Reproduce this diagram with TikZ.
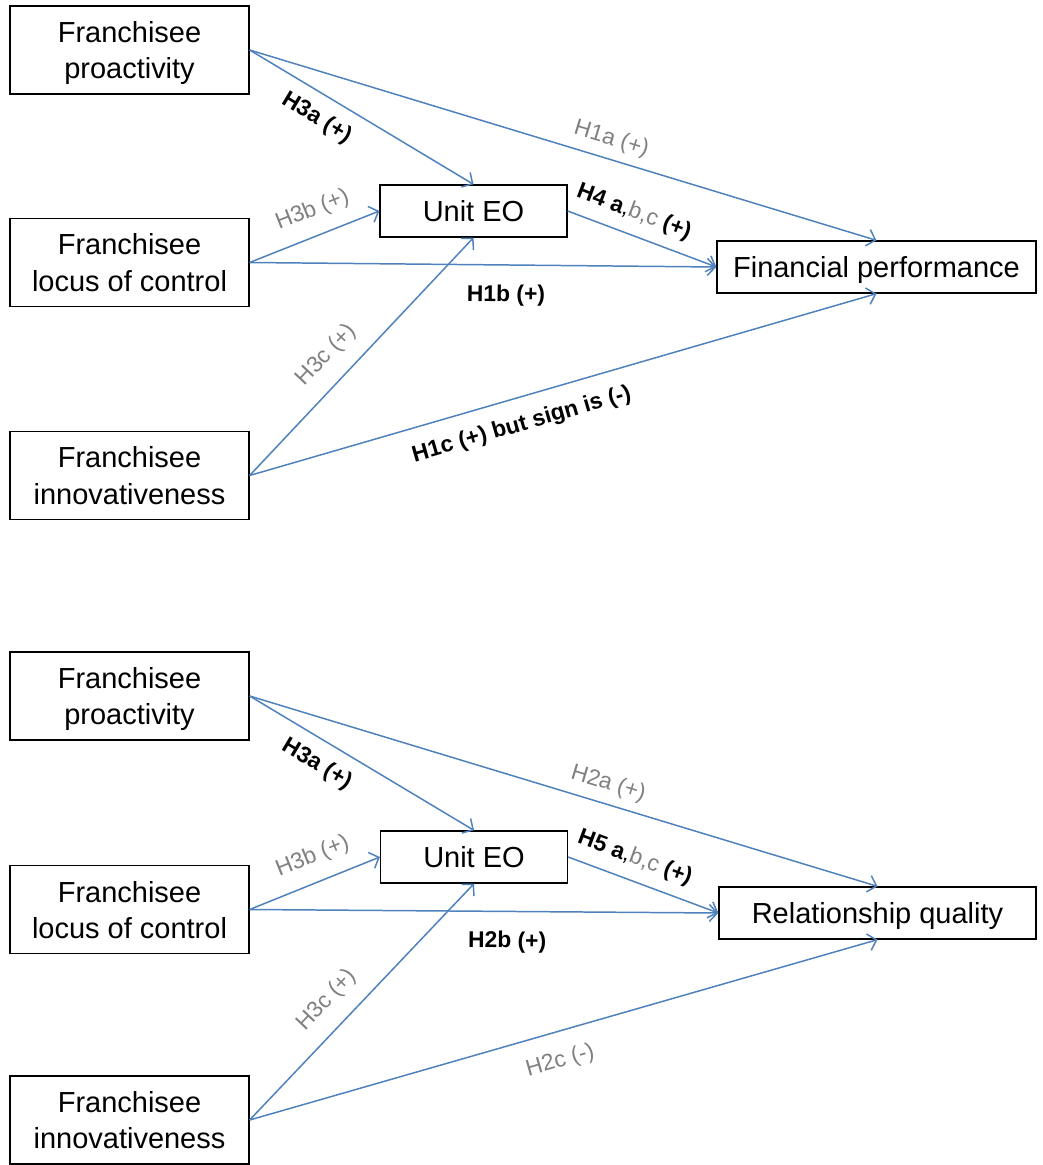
\documentclass[tikz,border=0pt]{standalone}
\usepackage{fontspec}
\setmainfont{Liberation Sans}
\usetikzlibrary{arrows.meta}
\definecolor{eoblue}{RGB}{79,129,189}
\definecolor{lblgray}{RGB}{128,128,128}

\begin{document}
\begin{tikzpicture}[x=0.02cm, y=-0.02cm,
	box/.style={draw, line width=0.75pt, align=center, inner sep=0pt, text depth=0pt, font=\fontsize{16.5}{20.5}\selectfont},
	src/.style={box, minimum width=4.78cm, minimum height=1.76cm},
	mid/.style={box, minimum width=3.74cm, minimum height=1.04cm},
	dep/.style={box, minimum height=1.04cm},
	link/.style={draw=eoblue, line width=0.85pt, -{Straight Barb[length=1.6mm,width=3.4mm]}},
	hb/.style={sloped, font=\fontsize{13}{15}\selectfont\bfseries},
	hg/.style={sloped, text=lblgray, font=\fontsize{13}{15}\selectfont}]
	\useasboundingbox (0,0) rectangle (1042,1165);
	
	% financial performance model
	\node[src] (pro1) at (129.5,50) {Franchisee\\proactivity};
	\node[src] (loc1) at (129.5,262.5) {Franchisee\\locus of control};
	\node[src] (inn1) at (129.5,475.5) {Franchisee\\innovativeness};
	\node[mid] (eo1) at (473.5,211) {Unit EO};
	\node[dep, minimum width=6.38cm] (fin) at (876.5,267) {Financial performance};
	
	\draw[link] (pro1.east) -- (eo1.north) node[hb, pos=.354, anchor=north, inner sep=7.2pt] {H3a (+)};
	\draw[link] (pro1.east) -- (fin.north) node[hg, pos=.568, anchor=south, inner sep=4.7pt] {H1a (+)};
	\draw[link] (loc1.east) -- (eo1.west) node[hg, pos=.557, anchor=south, inner sep=8pt] {H3b (+)};
	\draw[link] (loc1.east) -- (fin.west) node[hb, pos=.55, anchor=north, inner sep=11pt] {H1b (+)};
	\draw[link] (inn1.east) -- (eo1.south) node[hg, pos=.429, anchor=south, inner sep=8.5pt] {H3c (+)};
	\draw[link] (inn1.east) -- (fin.south) node[hb, pos=.422, anchor=north, inner sep=9pt] {H1c (+) but sign is (-)};
	\draw[link] (eo1.east) -- (fin.west) node[hb, pos=.393, anchor=south, inner sep=6.2pt] {H4 a\mdseries,\textcolor{lblgray}{b,c} \bfseries(+)};
	
	% relationship quality model
	\node[src] (pro2) at (129.5,696) {Franchisee\\proactivity};
	\node[src] (loc2) at (129.5,909.5) {Franchisee\\locus of control};
	\node[src] (inn2) at (129.5,1120) {Franchisee\\innovativeness};
	\node[mid] (eo2) at (474,857) {Unit EO};
	\node[dep, minimum width=6.34cm] (rel) at (877.5,913) {Relationship quality};
	
	\draw[link] (pro2.east) -- (eo2.north) node[hb, pos=.354, anchor=north, inner sep=7.2pt] {H3a (+)};
	\draw[link] (pro2.east) -- (rel.north) node[hg, pos=.562, anchor=south, inner sep=4.8pt] {H2a (+)};
	\draw[link] (loc2.east) -- (eo2.west) node[hg, pos=.557, anchor=south, inner sep=8pt] {H3b (+)};
	\draw[link] (loc2.east) -- (rel.west) node[hb, pos=.55, anchor=north, inner sep=11pt] {H2b (+)};
	\draw[link] (inn2.east) -- (eo2.south) node[hg, pos=.429, anchor=south, inner sep=8.5pt] {H3c (+)};
	\draw[link] (inn2.east) -- (rel.south) node[hg, pos=.482, anchor=north, inner sep=10pt] {H2c (-)};
	\draw[link] (eo2.east) -- (rel.west) node[hb, pos=.393, anchor=south, inner sep=6.2pt] {H5 a\mdseries,\textcolor{lblgray}{b,c} \bfseries(+)};
\end{tikzpicture}
\end{document}
